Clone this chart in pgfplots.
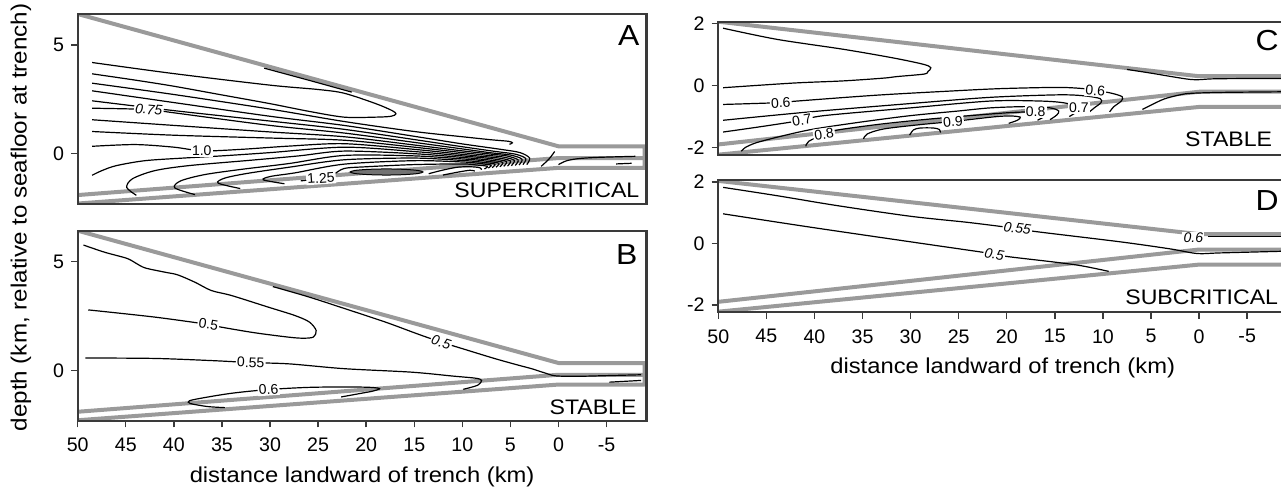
\documentclass[border=0pt]{standalone}
\usepackage{fontspec}
\setmainfont{Liberation Sans}
\newfontfamily\lab{Liberation Sans}[FakeStretch=1.1]
\usepackage{pgfplots}
\pgfplotsset{compat=1.18}
\definecolor{wedge}{HTML}{9A9A9A}
\definecolor{frame}{HTML}{3A3A3A}
\pgfplotsset{
  panel/.style={scale only axis, width=284.4pt, x dir=reverse, xmin=-9.15, xmax=50,
    axis line style={frame, line width=1.1pt}, tick style={frame, line width=0.7pt},
    tick align=outside, tick pos=left, major tick length=3.3pt,
    ticklabel style={font=\fontsize{9.8}{11}\selectfont},
    x tick label style={yshift=-1.7pt},
    anchor=south west, clip=true, axis on top},
  ab/.style={panel, height=95pt, ymin=-2.31, ymax=6.42, ytick={0,5}, yticklabels={0,5}},
  cd/.style={panel, ymin=-2.24, ymax=2.06, ytick={-2,0,2}, yticklabels={-2,0,2}},
  xt/.style={xtick={50,45,40,35,30,25,20,15,10,5,0,-5},
    xticklabels={50,45,40,35,30,25,20,15,10,5,0,-5},
    x label style={at={(axis description cs:0.5,0)}, anchor=center, yshift=-28pt, font=\lab\fontsize{10.8}{12}\selectfont}},
  cnt/.style={black, line width=0.6pt, smooth, tension=0.5, no markers},
  gry/.style={wedge, line width=2pt, no markers, line join=round},
}
\tikzset{
  clab/.style={fill=white, inner sep=0.6pt, font=\fontsize{7}{8}\selectfont},
  big/.style={inner sep=0pt, font=\lab\fontsize{14.5}{15}\selectfont},
  tag/.style={inner sep=0pt, font=\lab\fontsize{10.5}{12}\selectfont},
}
\begin{document}
\begin{tikzpicture}
\useasboundingbox (0,0) rectangle (640.5pt,245pt);
\clip (0,0) rectangle (640.5pt,245pt);
% ---------------- Panel A ----------------
\begin{axis}[ab, at={(38.85pt,143pt)}, xtick=\empty]
\addplot[gry] coordinates {(50,6.42)(0,0.34)(-8.95,0.34)(-8.95,-0.65)(0,-0.65)(50,-2.29)};
\addplot[gry] coordinates {(50,-1.9)(0,-0.2)(-8.95,-0.2)};
\addplot[black, line width=0.5pt, fill=wedge!75!black, smooth, no markers] coordinates {(21.7,-0.84)(21.2,-0.77)(19.8,-0.72)(17.9,-0.70)(16.0,-0.72)(14.6,-0.77)(14.1,-0.84)(14.6,-0.91)(16.0,-0.96)(17.9,-0.98)(19.8,-0.96)(21.2,-0.91)(21.7,-0.84)};
\addplot[cnt] coordinates {(48.5,4.19)(40,3.68)(30,3.15)(25,2.95)(22.3,2.78)(19,2.3)(17.3,1.98)(16.9,1.83)(17.4,1.72)(19,1.68)(22.3,1.68)(26,1.95)(30,2.3)(35,2.7)(40,3.1)(44,3.38)(48.5,3.67)};
\addplot[cnt] coordinates {(30.6,3.93)(26,3.38)(21.5,2.83)};
\addplot[cnt] coordinates {(48.5,3.24)(40,2.72)(30,2.05)(22.3,1.48)(15,1.02)(10,0.78)(7,0.64)(5.2,0.57)(4.8,0.5)(5.1,0.43)};
\addplot[cnt] coordinates {(48.5,2.89)(40,2.35)(30,1.72)(22.3,1.30)(15,0.80)(10,0.45)(6,0.2)(4,0.05)(3.0,-0.2)(3.3,-0.5)};
\addplot[cnt] coordinates {(48.5,2.43)(40,1.98)(30,1.5)(22.3,1.12)(15,0.65)(10,0.32)(6.5,0.1)(4.5,-0.02)(3.4,-0.22)(3.7,-0.5)};
\addplot[cnt] coordinates {(48.5,2.09)(42.6,2.03)(40,1.88)(30,1.3)(22.3,0.95)(15,0.52)(10,0.22)(7,0.04)(5,-0.06)(3.8,-0.25)(4.1,-0.52)};
\addplot[cnt] coordinates {(48.5,1.56)(40,1.3)(30,1.0)(22.3,0.78)(15,0.4)(10,0.13)(7,-0.02)(5.4,-0.1)(4.2,-0.28)(4.5,-0.54)};
\addplot[cnt] coordinates {(48.5,1.02)(40,0.85)(30,0.72)(22.3,0.62)(15,0.3)(10,0.05)(7.5,-0.07)(5.8,-0.15)(4.6,-0.3)(4.9,-0.55)};
\addplot[cnt] coordinates {(48.5,0.34)(44,0.42)(40,0.3)(37,0.13)(33,0.2)(28,0.35)(22.3,0.46)(15,0.2)(10,-0.03)(8,-0.12)(6.2,-0.2)(5.0,-0.33)(5.3,-0.57)};
\addplot[cnt] coordinates {(48.5,-0.99)(47.5,-0.78)(46,-0.55)(43,-0.32)(39,-0.2)(35,-0.1)(30,0.05)(22.3,0.3)(15,0.1)(10,-0.1)(8,-0.18)(6.6,-0.25)(5.4,-0.36)(5.7,-0.58)};
\addplot[cnt] coordinates {(43.9,-1.91)(44.9,-1.55)(44.3,-1.15)(42,-0.78)(38.5,-0.55)(32,-0.3)(27,-0.1)(22.3,0.12)(15,0.0)(10,-0.17)(8.5,-0.23)(7,-0.3)(5.8,-0.4)(6.1,-0.6)};
\addplot[cnt] coordinates {(37.8,-1.88)(39.9,-1.57)(39.3,-1.25)(36.8,-0.96)(33,-0.72)(28,-0.45)(22.3,-0.08)(15,-0.1)(10,-0.24)(8.5,-0.29)(7.4,-0.35)(6.2,-0.44)(6.5,-0.62)};
\addplot[cnt] coordinates {(33.1,-1.6)(35.4,-1.35)(34.7,-1.12)(32.3,-0.9)(28,-0.62)(22.3,-0.28)(15,-0.2)(10,-0.31)(8.5,-0.36)(7.6,-0.41)(6.6,-0.48)(6.9,-0.64)};
\addplot[cnt] coordinates {(28.5,-1.38)(30.7,-1.2)(29.9,-1.04)(27.4,-0.88)(22.3,-0.48)(15,-0.32)(10,-0.38)(8.5,-0.43)(7.8,-0.47)(7.0,-0.53)(7.3,-0.66)};
\addplot[cnt] coordinates {(26.8,-1.25)(24.7,-1.12)(23.5,-0.98)(22.3,-0.68)(20,-0.6)(15,-0.5)(10,-0.47)(8.5,-0.52)(7.4,-0.58)(7.7,-0.7)};
\addplot[cnt] coordinates {(13.5,-0.92)(12,-0.75)(10.5,-0.62)(9.2,-0.6)(8.2,-0.64)(8.0,-0.74)};
\addplot[cnt] coordinates {(12.0,-0.98)(10.5,-0.85)(9.2,-0.76)(8.7,-0.8)};
\addplot[cnt] coordinates {(1.8,-0.58)(1.0,-0.25)(0.4,0.1)};
\addplot[cnt] coordinates {(0.0,-0.5)(-0.8,-0.33)(-2.0,-0.23)(-4,-0.17)(-8.0,-0.12)};
\addplot[cnt] coordinates {(-6.0,-0.47)(-7.6,-0.44)};
\node[clab, rotate=-5] at (axis cs:42.6,2.03) {\itshape 0.75};
\node[clab] at (axis cs:37.1,0.12) {1.0};
\node[clab, rotate=4] at (axis cs:24.7,-1.12) {1.25};
\node[big, anchor=north east, xshift=-3.4pt, yshift=-5.5pt] at (rel axis cs:1,1) {A};
\node[tag, anchor=south east, xshift=-3.4pt, yshift=3pt] at (rel axis cs:1,0) {SUPERCRITICAL};
\end{axis}
% ---------------- Panel B ----------------
\begin{axis}[ab, xt, at={(38.85pt,34.65pt)}, xlabel={distance landward of trench (km)}]
\addplot[gry] coordinates {(50,6.42)(0,0.34)(-8.95,0.34)(-8.95,-0.65)(0,-0.65)(50,-2.29)};
\addplot[gry] coordinates {(50,-1.9)(0,-0.2)(-8.95,-0.2)};
\addplot[cnt] coordinates {(49.4,5.76)(47.2,5.43)(44.9,5.15)(44.0,4.94)(43.0,4.71)(40.9,4.51)(39.6,4.39)(37.8,4.05)(36.1,3.67)(34.0,3.44)(30.2,2.91)(27.4,2.52)(25.9,2.22)(25.2,1.83)(25.5,1.53)(26.6,1.48)(28.1,1.53)(31.6,1.73)(35.1,1.99)(36.4,2.11)(42.0,2.45)(48.9,2.78)};
\addplot[cnt] coordinates {(29.7,3.85)(26,3.38)(22.3,2.85)(18,2.22)(14.5,1.65)(12.2,1.30)(10,1.0)(6.6,0.54)(4,0.22)(2.8,0.08)(1.4,-0.12)(0.3,-0.25)(-2,-0.27)(-5,-0.24)(-8.6,-0.2)};
\addplot[cnt] coordinates {(49.2,0.57)(42,0.55)(36,0.45)(32,0.36)(28,0.3)(22.3,0.08)(15.3,-0.08)(11,-0.26)(8.6,-0.36)(8.0,-0.46)(8.4,-0.68)(9.9,-0.87)};
\addplot[cnt] coordinates {(34.7,-1.71)(36.5,-1.66)(38.3,-1.52)(38.4,-1.4)(37.2,-1.28)(34,-1.05)(30.2,-0.88)(26,-0.78)(22,-0.76)(19.5,-0.78)(18.6,-0.84)(19.3,-0.95)(20.5,-1.05)(22.6,-1.22)};
\addplot[cnt] coordinates {(-5.3,-0.54)(-8.6,-0.46)};
\node[clab, rotate=-9] at (axis cs:36.4,2.12) {0.5};
\node[clab, rotate=-18] at (axis cs:12.2,1.29) {\itshape 0.5};
\node[clab, rotate=-2] at (axis cs:32.0,0.36) {0.55};
\node[clab, rotate=4] at (axis cs:30.15,-0.87) {0.6};
\node[big, anchor=north east, xshift=-4.3pt, yshift=-6.5pt] at (rel axis cs:1,1) {B};
\node[tag, anchor=south east, xshift=-4.8pt, yshift=2.8pt] at (rel axis cs:1,0) {STABLE};
\end{axis}
% ---------------- Panel C ----------------
\begin{axis}[cd, height=66.65pt, at={(359.15pt,167.5pt)}, xtick=\empty]
\addplot[gry] coordinates {(50,2.06)(0,0.3)(-10,0.3)};
\addplot[gry] coordinates {(50,-1.9)(0,-0.2)(-10,-0.2)};
\addplot[gry] coordinates {(50,-2.23)(0,-0.69)(-10,-0.69)};
\addplot[cnt] coordinates {(49.5,1.85)(43.9,1.49)(37.0,1.17)(31.8,0.89)(28.6,0.68)(27.9,0.57)(28.2,0.45)(28.6,0.37)(31.4,0.29)(32.8,0.24)(37.0,0.15)(42.2,0.08)(49.5,-0.07)};
\addplot[cnt] coordinates {(49.5,-0.61)(43.5,-0.55)(41.8,-0.50)(33.5,-0.31)(26,-0.18)(20.7,-0.1)(14.7,-0.06)(12,-0.1)(10.8,-0.16)(9.2,-0.24)(8.0,-0.36)(8.1,-0.5)(8.9,-0.69)(9.3,-0.85)};
\addplot[cnt] coordinates {(49.5,-1.12)(40.5,-0.85)(30,-0.58)(21.7,-0.38)(14.7,-0.3)(12,-0.33)(10.3,-0.42)(10.2,-0.55)(10.9,-0.72)(11.4,-0.85)};
\addplot[cnt] coordinates {(49.5,-1.5)(45,-1.3)(41.3,-1.12)(39,-0.97)(30,-0.72)(21.7,-0.5)(16.5,-0.5)(14,-0.56)(12.6,-0.7)(12.8,-0.86)(13.5,-1.0)};
\addplot[cnt] coordinates {(47.6,-2.12)(47.2,-2.0)(46,-1.84)(43,-1.6)(40,-1.4)(35,-1.17)(30,-0.97)(25,-0.82)(21.7,-0.72)(18,-0.68)(15.5,-0.72)(14.6,-0.82)(14.8,-0.95)(15.5,-1.1)};
\addplot[cnt] coordinates {(40.9,-1.96)(40.6,-1.8)(39.0,-1.57)(37.5,-1.43)(33,-1.24)(28,-1.08)(23,-0.95)(19.5,-0.87)(17.0,-0.85)(16.0,-0.9)(16.1,-1.0)(16.8,-1.12)};
\addplot[cnt] coordinates {(34.9,-1.72)(34.5,-1.56)(32.8,-1.4)(29,-1.26)(25.6,-1.16)(23.1,-1.07)(21,-1.0)(19.6,-0.98)(18.6,-1.02)(18.9,-1.12)(19.8,-1.22)};
\addplot[cnt] coordinates {(30.1,-1.6)(29.7,-1.43)(29.0,-1.37)(27.6,-1.37)(27.0,-1.42)(26.9,-1.52)};
\addplot[cnt] coordinates {(5.9,-0.77)(4.8,-0.6)(3.6,-0.43)(2,-0.3)(0.8,-0.25)(-2.6,-0.22)(-9.5,-0.2)};
\addplot[cnt] coordinates {(7.5,0.52)(5,0.4)(2.5,0.27)(1,0.2)(0,0.19)(-2,0.22)(-9.5,0.23)};
\node[clab, rotate=3] at (axis cs:43.5,-0.56) {0.6};
\node[clab, rotate=10] at (axis cs:41.3,-1.11) {0.7};
\node[clab, rotate=8] at (axis cs:39.0,-1.57) {0.8};
\node[clab, rotate=5] at (axis cs:25.6,-1.17) {0.9};
\node[clab, rotate=-5] at (axis cs:10.8,-0.16) {0.6};
\node[clab] at (axis cs:12.5,-0.72) {0.7};
\node[clab] at (axis cs:17.0,-0.85) {0.8};
\node[big, anchor=north east, xshift=-4pt, yshift=-4.2pt] at (rel axis cs:1,1) {C};
\node[tag, anchor=south east, xshift=-7.3pt, yshift=4pt] at (rel axis cs:1,0) {STABLE};
\end{axis}
% ---------------- Panel D ----------------
\begin{axis}[cd, xt, height=66.15pt, at={(359.15pt,88.85pt)}, xlabel={distance landward of trench (km)}]
\addplot[gry] coordinates {(50,2.03)(0,0.3)(-10,0.3)};
\addplot[gry] coordinates {(50,-1.9)(0,-0.2)(-10,-0.2)};
\addplot[gry] coordinates {(50,-2.22)(0,-0.69)(-10,-0.69)};
\addplot[cnt] coordinates {(49.5,1.82)(43.9,1.55)(37.7,1.23)(30,0.88)(24,0.68)(18.9,0.48)(16.9,0.38)(8.2,0.05)(3,-0.18)(0.2,-0.33)(-2.2,-0.31)(-9.5,-0.25)};
\addplot[cnt] coordinates {(49.5,0.96)(40.5,0.53)(30,0.05)(22.7,-0.28)(21.3,-0.35)(19.9,-0.43)(15,-0.61)(12.2,-0.73)(9.4,-0.91)};
\addplot[cnt] coordinates {(-0.9,0.23)(-9.5,0.23)};
\node[clab, rotate=-8] at (axis cs:18.9,0.49) {\itshape 0.55};
\node[clab, rotate=-10] at (axis cs:21.3,-0.35) {\itshape 0.5};
\node[clab] at (axis cs:0.6,0.18) {\itshape 0.6};
\node[big, anchor=north east, xshift=-4pt, yshift=-5pt] at (rel axis cs:1,1) {D};
\node[tag, anchor=south east, xshift=-4.3pt, yshift=3.6pt] at (rel axis cs:1,0) {SUBCRITICAL};
\end{axis}
\node[rotate=90, font=\lab\fontsize{11}{12}\selectfont] at (10.5pt,136.25pt) {depth (km, relative to seafloor at trench)};
\end{tikzpicture}
\end{document}
